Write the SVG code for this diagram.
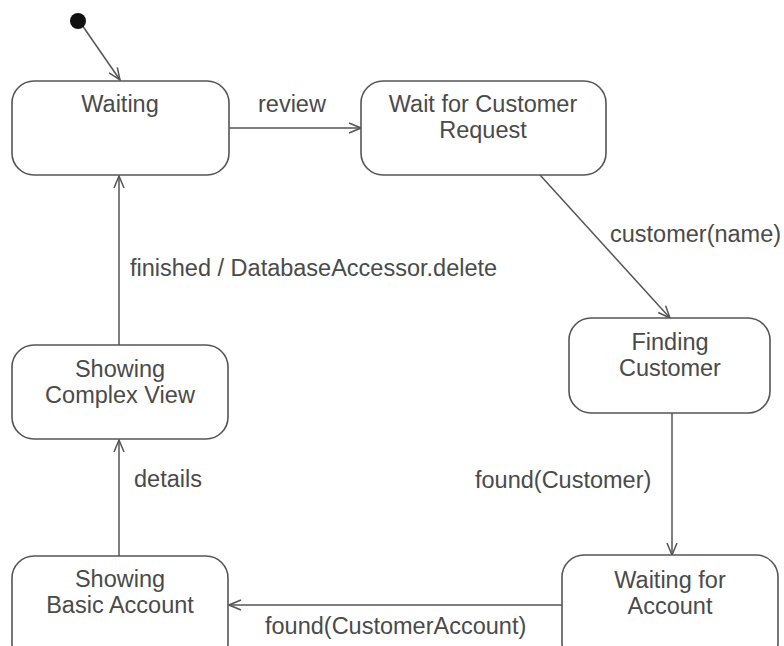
<svg xmlns="http://www.w3.org/2000/svg" width="784" height="646" viewBox="0 0 784 646">
<defs>
<marker id="arr" viewBox="0 0 14 12" refX="13" refY="6" markerWidth="14" markerHeight="12" markerUnits="userSpaceOnUse" orient="auto">
<path d="M1,1 L13,6 L1,11" fill="none" stroke="#555" stroke-width="1.5"/>
</marker>
<style>
.st{fill:#fff;stroke:#555;stroke-width:1.6}
.t{font-family:"Liberation Sans",Arial,sans-serif;font-size:23.5px;fill:#4a4a4a;text-anchor:middle}
.l{font-family:"Liberation Sans",Arial,sans-serif;font-size:23.5px;fill:#4a4a4a}
.c{fill:none;stroke:#555;stroke-width:1.5;marker-end:url(#arr)}
</style>
</defs>
<rect width="784" height="646" fill="#fff"/>
<g id="connectors">
<line class="c" x1="82" y1="25" x2="120" y2="80"/>
<line class="c" x1="229" y1="128" x2="361" y2="128"/>
<line class="c" x1="540" y1="175" x2="670" y2="318"/>
<line class="c" x1="672" y1="413" x2="672" y2="555"/>
<line class="c" x1="562" y1="605" x2="229" y2="605"/>
<line class="c" x1="119" y1="556" x2="119" y2="440"/>
<line class="c" x1="119" y1="345" x2="119" y2="176"/>
<text class="l" x="258" y="112">review</text>
<text class="l" x="610" y="242">customer(name)</text>
<text class="l" x="475" y="488">found(Customer)</text>
<text class="l" x="265" y="634">found(CustomerAccount)</text>
<text class="l" x="134" y="487">details</text>
<text class="l" x="130" y="276">finished / DatabaseAccessor.delete</text>
</g>
<g id="initial"><circle cx="78" cy="21" r="8" fill="#111"/></g>
<g id="waiting">
<rect class="st" x="12" y="81" width="217" height="94" rx="22"/>
<text class="t" x="120" y="112">Waiting</text>
</g>
<g id="waitForCustomerRequest">
<rect class="st" x="361" y="81" width="245" height="94" rx="22"/>
<text class="t" x="483" y="112">Wait for Customer</text>
<text class="t" x="483" y="138">Request</text>
</g>
<g id="findingCustomer">
<rect class="st" x="569" y="318" width="201" height="95" rx="22"/>
<text class="t" x="670" y="350">Finding</text>
<text class="t" x="670" y="376">Customer</text>
</g>
<g id="waitingForAccount">
<rect class="st" x="562" y="555" width="216" height="110" rx="22"/>
<text class="t" x="670" y="588">Waiting for</text>
<text class="t" x="670" y="614">Account</text>
</g>
<g id="showingComplexView">
<rect class="st" x="12" y="345" width="216" height="94" rx="22"/>
<text class="t" x="120" y="377">Showing</text>
<text class="t" x="120" y="403">Complex View</text>
</g>
<g id="showingBasicAccount">
<rect class="st" x="12" y="556" width="216" height="110" rx="22"/>
<text class="t" x="120" y="587">Showing</text>
<text class="t" x="120" y="613">Basic Account</text>
</g>
</svg>
